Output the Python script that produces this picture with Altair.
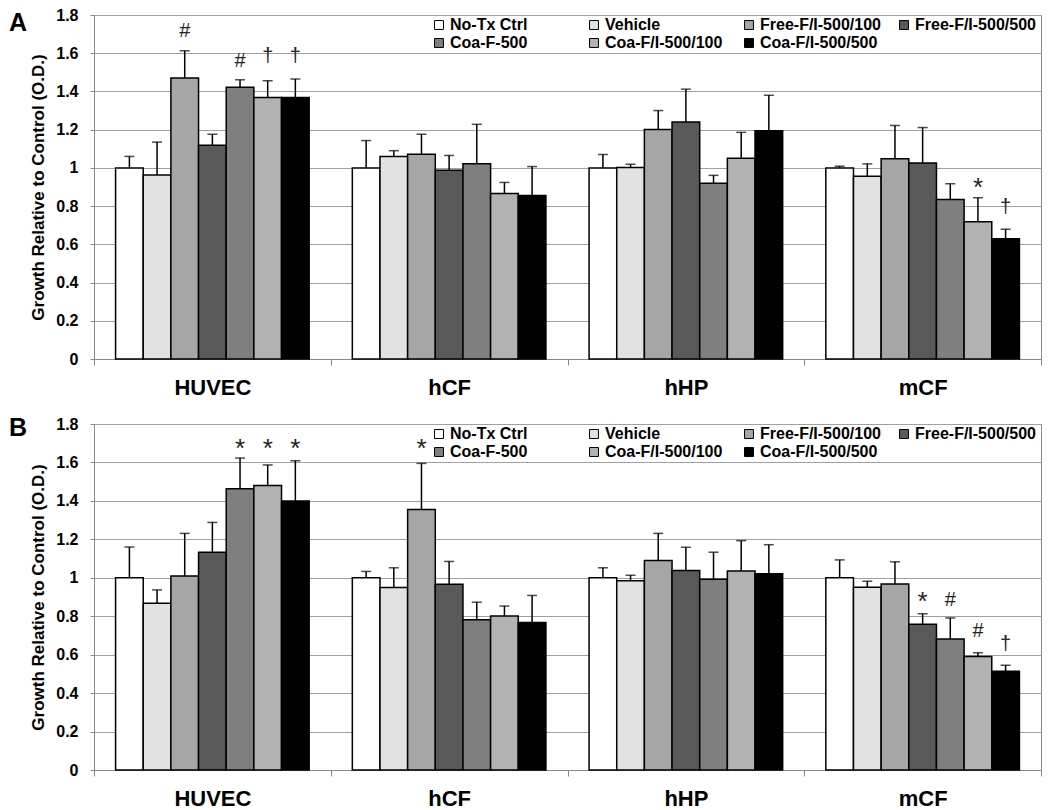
import altair as alt
import pandas as pd

cells = ["HUVEC", "hCF", "hHP", "mCF"]
series = ["No-Tx Ctrl", "Vehicle", "Free-F/I-500/100", "Free-F/I-500/500",
          "Coa-F-500", "Coa-F/I-500/100", "Coa-F/I-500/500"]
colors = ["#ffffff", "#e2e2e2", "#a6a6a6", "#595959", "#7f7f7f", "#b2b2b2", "#000000"]
y_ticks = [0, 0.2, 0.4, 0.6, 0.8, 1.0, 1.2, 1.4, 1.6, 1.8]
y_title = "Growth Relative to Control (O.D.)"

# Panel A: means and upper error-bar ends
a_mean = {
    "HUVEC": [1.00, 0.963, 1.470, 1.118, 1.422, 1.368, 1.368],
    "hCF":   [1.00, 1.060, 1.072, 0.988, 1.022, 0.866, 0.856],
    "hHP":   [1.00, 1.002, 1.201, 1.240, 0.919, 1.050, 1.194],
    "mCF":   [1.00, 0.956, 1.048, 1.026, 0.834, 0.718, 0.629],
}
a_err = {
    "HUVEC": [1.060, 1.135, 1.613, 1.176, 1.461, 1.456, 1.465],
    "hCF":   [1.143, 1.090, 1.176, 1.065, 1.228, 0.924, 1.007],
    "hHP":   [1.070, 1.019, 1.300, 1.412, 0.961, 1.186, 1.380],
    "mCF":   [1.009, 1.021, 1.222, 1.211, 0.917, 0.844, 0.679],
}
a_marks = [
    ("HUVEC", "Free-F/I-500/100", "#", 1.715),
    ("HUVEC", "Coa-F-500", "#", 1.558),
    ("HUVEC", "Coa-F/I-500/100", "†", 1.584),
    ("HUVEC", "Coa-F/I-500/500", "†", 1.584),
    ("mCF", "Coa-F/I-500/100", "*", 0.924),
    ("mCF", "Coa-F/I-500/500", "†", 0.793),
]

# Panel B
b_mean = {
    "HUVEC": [1.00, 0.868, 1.009, 1.133, 1.463, 1.480, 1.399],
    "hCF":   [1.00, 0.949, 1.355, 0.966, 0.782, 0.801, 0.767],
    "hHP":   [1.00, 0.985, 1.090, 1.038, 0.992, 1.035, 1.021],
    "mCF":   [1.00, 0.951, 0.968, 0.758, 0.682, 0.591, 0.514],
}
b_err = {
    "HUVEC": [1.160, 0.937, 1.231, 1.288, 1.623, 1.587, 1.609],
    "hCF":   [1.033, 1.052, 1.595, 1.085, 0.873, 0.853, 0.908],
    "hHP":   [1.052, 1.013, 1.231, 1.159, 1.133, 1.193, 1.172],
    "mCF":   [1.093, 0.982, 1.083, 0.813, 0.791, 0.610, 0.545],
}
b_marks = [
    ("HUVEC", "Coa-F-500", "*", 1.702),
    ("HUVEC", "Coa-F/I-500/100", "*", 1.702),
    ("HUVEC", "Coa-F/I-500/500", "*", 1.702),
    ("hCF", "Free-F/I-500/100", "*", 1.702),
    ("mCF", "Free-F/I-500/500", "*", 0.903),
    ("mCF", "Coa-F-500", "#", 0.882),
    ("mCF", "Coa-F/I-500/100", "#", 0.722),
    ("mCF", "Coa-F/I-500/500", "†", 0.653),
]

FONT = "Liberation Sans"


def make_panel(letter, means, errs, marks, height):
    rows = []
    for c in cells:
        for s, v, e in zip(series, means[c], errs[c]):
            rows.append({"cell": c, "series": s, "value": v, "err": e})
    df = pd.DataFrame(rows)
    mdf = pd.DataFrame(marks, columns=["cell", "series", "sym", "ypos"])

    x_axis = alt.Axis(title=None, labelAngle=0, labelFontSize=22,
                      labelFontWeight="bold", labelPadding=12, tickSize=6,
                      tickBand="extent", domainColor="#888888",
                      tickColor="#888888", grid=False, labelColor="black")
    x = alt.X("cell:N", sort=cells,
              scale=alt.Scale(paddingInner=0, paddingOuter=0), axis=x_axis)
    xo = alt.XOffset("series:N", sort=series,
                     scale=alt.Scale(paddingInner=0, paddingOuter=0.78))
    y_axis = alt.Axis(values=y_ticks, format=".1~f", title=y_title,
                      labelOverlap=False, tickCount=10,
                      titleFontSize=17, titleFontWeight="bold", titlePadding=8,
                      titleColor="black", labelFontSize=16, labelFontWeight="bold",
                      labelPadding=12, labelColor="black", tickSize=4,
                      gridColor="#a0a0a0", domainColor="#888888", tickColor="#888888")
    y_scale = alt.Scale(domain=[0, 1.8], nice=False)

    def Y(field):
        return alt.Y(field, scale=y_scale, axis=y_axis, title=y_title)

    base = alt.Chart(df).encode(x=x, xOffset=xo)
    bars = base.mark_bar(stroke="black", strokeWidth=1.5).encode(
        y=Y("value:Q"),
        color=alt.Color("series:N", sort=series,
                        scale=alt.Scale(domain=series, range=colors),
                        legend=alt.Legend(title=None)),
    )
    rule = base.mark_rule(color="black", strokeWidth=1.5).encode(
        y=Y("value:Q"), y2="err:Q")
    cap = base.mark_tick(color="black", thickness=1.5, size=10).encode(y=Y("err:Q"))

    mbase = alt.Chart(mdf).encode(x=x, xOffset=xo, y=Y("ypos:Q"), text="sym:N")
    star = mbase.transform_filter(alt.datum.sym == "*").mark_text(
        font=FONT, fontSize=26, baseline="middle", dy=6, color="#222222")
    other = mbase.transform_filter(alt.datum.sym != "*").mark_text(
        font=FONT, fontSize=20, baseline="middle", color="#222222")

    lab = alt.Chart(pd.DataFrame({"t": [letter]})).mark_text(
        font=FONT, fontSize=25, fontWeight="bold", align="left", baseline="top",
        color="black").encode(text="t:N", x=alt.value(-85),
                              y=alt.value(-4 if letter == "A" else -8))

    return alt.layer(bars, rule, cap, star, other, lab).properties(
        width=947, height=height)


pA = make_panel("A", a_mean, a_err, a_marks, 344)
pB = make_panel("B", b_mean, b_err, b_marks, 346)

chart = alt.vconcat(pA, pB, spacing=16).resolve_scale(
    color="independent").resolve_legend(color="independent").properties(
    padding={"left": 0, "top": -2, "right": 0, "bottom": 0}
).configure_view(stroke="#888888").configure_legend(
    orient="none", legendX=337, legendY=2, columns=4, direction="horizontal",
    symbolType="square", symbolSize=80, symbolStrokeColor="black",
    symbolStrokeWidth=1, labelFont=FONT, labelFontSize=16,
    labelFontWeight="bold", labelColor="black", labelOffset=3,
    gridAlign="all", columnPadding=15, rowPadding=2, padding=0
).configure_axis(labelFont=FONT, titleFont=FONT)

chart.save("out.html", embed_options={"renderer": "svg", "actions": False})
